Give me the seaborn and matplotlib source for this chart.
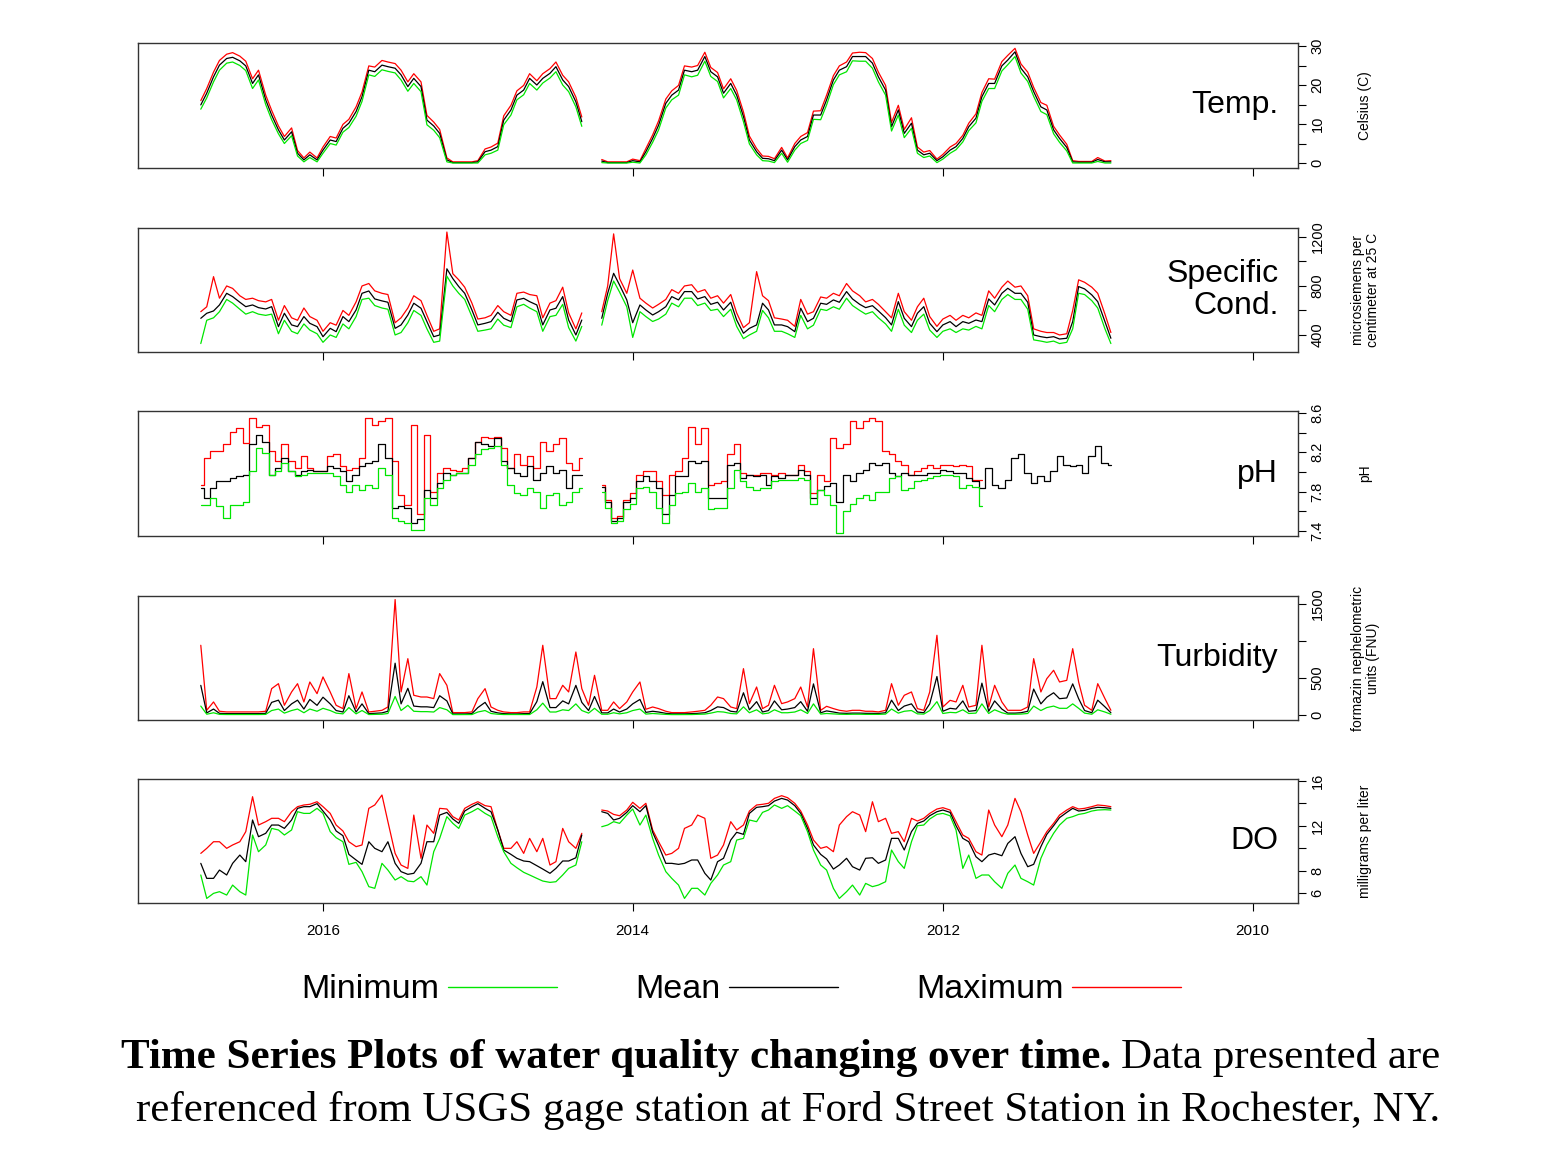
import numpy as np
import pandas as pd
import seaborn as sns
import matplotlib
matplotlib.use("Agg")
import matplotlib.pyplot as plt
from matplotlib.lines import Line2D

nan = np.nan

# semi-monthly samples, Dec 2010 .. Oct 2016
dates = pd.date_range("2010-12-01", periods=142, freq="SMS")

temp_max = [
    0.6, 0.5, 1.4, 0.4, 0.4, 0.4, 0.6, 4.8, 7.2, 9.4,
    14.8, 15.5, 19.4, 23.3, 25.4, 29.4, 27.6, 26.0, 21.5, 21.6,
    18.1, 12.6, 10.2, 7.1, 5.0, 4.1, 2.2, 1.0, 3.2, 2.8,
    4.1, 11.6, 8.6, 14.8, 10.4, 19.9, 23.3, 26.8, 28.3, 28.4,
    28.2, 25.9, 24.9, 22.4, 17.4, 13.4, 13.3, 7.8, 6.8, 5.0,
    1.3, 4.0, 1.1, 1.7, 1.8, 3.7, 6.9, 13.1, 18.6, 21.6,
    19.0, 23.2, 24.5, 28.4, 25.0, 24.6, 24.9, 19.9, 18.5, 16.4,
    10.8, 7.2, 3.7, 0.6, 1.0, 0.3, 0.3, 0.3, 0.3, 0.9,
    nan, nan, 11.8, 16.9, 20.8, 22.5, 25.9, 24.2, 22.9, 21.1,
    22.9, 19.9, 18.5, 14.8, 12.1, 5.1, 4.1, 3.6, 0.6, 0.3,
    0.3, 0.3, 0.3, 1.3, 8.6, 10.5, 12.2, 20.8, 22.9, 20.8,
    23.8, 25.5, 25.9, 26.3, 24.6, 24.9, 18.2, 14.4, 11.2, 9.9,
    6.4, 6.8, 4.1, 1.3, 2.8, 1.3, 3.2, 9.0, 6.8, 9.5,
    13.5, 17.4, 23.8, 21.6, 26.1, 27.4, 28.3, 27.9, 26.3, 23.3,
    19.1, 16.0,
]
temp_mean = [
    0.3, 0.3, 0.9, 0.2, 0.2, 0.2, 0.3, 4.0, 6.3, 8.5,
    13.6, 14.4, 18.3, 22.1, 24.3, 28.5, 26.4, 24.9, 20.4, 20.4,
    17.0, 11.5, 9.3, 6.3, 4.2, 3.3, 1.6, 0.6, 2.5, 2.1,
    3.3, 10.2, 7.6, 13.6, 9.3, 18.7, 22.1, 25.6, 27.3, 27.3,
    27.3, 24.7, 23.8, 21.3, 16.2, 12.3, 12.3, 6.8, 5.9, 4.2,
    0.8, 3.3, 0.6, 1.1, 1.2, 2.9, 5.9, 11.9, 17.4, 20.4,
    17.9, 22.1, 23.4, 27.3, 23.8, 23.4, 23.8, 18.7, 17.4, 15.3,
    9.7, 6.3, 2.9, 0.3, 0.6, 0.1, 0.1, 0.1, 0.1, 0.5,
    nan, nan, 10.6, 15.7, 19.6, 21.3, 24.7, 23.0, 21.7, 20.0,
    21.7, 18.7, 17.4, 13.6, 11.0, 4.2, 3.3, 2.9, 0.3, 0.1,
    0.1, 0.1, 0.1, 0.8, 7.6, 9.5, 11.0, 19.6, 21.7, 19.6,
    22.6, 24.3, 24.7, 25.1, 23.4, 23.8, 17.0, 13.2, 10.2, 8.9,
    5.5, 5.9, 3.3, 0.8, 2.1, 0.8, 2.5, 8.0, 5.9, 8.5,
    12.3, 16.2, 22.6, 20.4, 24.9, 26.2, 27.1, 26.8, 25.1, 22.1,
    17.9, 14.9,
]
temp_min = [
    0.0, 0.0, 0.4, 0.0, 0.0, 0.0, 0.0, 3.1, 5.3, 7.5,
    12.4, 13.2, 17.1, 20.9, 23.1, 27.3, 25.2, 23.6, 19.1, 19.1,
    15.8, 10.3, 8.3, 5.4, 3.4, 2.5, 1.0, 0.1, 1.8, 1.4,
    2.5, 8.9, 6.5, 12.3, 8.2, 17.4, 20.8, 24.3, 26.1, 26.1,
    26.2, 23.4, 22.6, 20.1, 14.9, 11.1, 11.2, 5.8, 5.0, 3.3,
    0.2, 2.5, 0.1, 0.5, 0.6, 2.1, 4.9, 10.6, 16.2, 19.1,
    16.7, 20.9, 22.2, 26.1, 22.5, 22.1, 22.6, 17.4, 16.2, 14.1,
    8.5, 5.3, 2.1, 0.0, 0.2, 0.0, 0.0, 0.0, 0.0, 0.1,
    nan, nan, 9.4, 14.4, 18.3, 20.0, 23.4, 21.8, 20.5, 18.7,
    20.4, 17.5, 16.2, 12.3, 9.8, 3.3, 2.5, 2.1, 0.0, 0.0,
    0.0, 0.0, 0.0, 0.3, 6.5, 8.4, 9.8, 18.3, 20.4, 18.4,
    21.3, 23.1, 23.5, 23.9, 22.2, 22.6, 15.8, 12.0, 9.1, 7.9,
    4.6, 5.0, 2.5, 0.3, 1.4, 0.3, 1.8, 7.0, 5.0, 7.5,
    11.1, 15.0, 21.3, 19.1, 23.7, 25.0, 25.9, 25.6, 23.8, 20.8,
    16.7, 13.8,
]

cond_max = [
    420, 570, 740, 790, 830, 850, 600, 410, 400, 420,
    420, 430, 450, 720, 800, 790, 840, 790, 700, 760,
    560, 580, 540, 560, 520, 560, 530, 470, 550, 700,
    630, 520, 590, 740, 540, 590, 650, 690, 670, 720,
    760, 820, 720, 740, 700, 710, 590, 570, 690, 470,
    520, 530, 540, 680, 720, 917, 500, 460, 580, 730,
    660, 720, 700, 770, 750, 810, 800, 740, 770, 690,
    650, 620, 660, 700, 930, 740, 860, 1225, 800, 590,
    nan, nan, 580, 450, 580, 790, 680, 660, 540, 720,
    730, 750, 740, 560, 590, 640, 560, 540, 530, 660,
    790, 850, 900, 1240, 450, 430, 560, 680, 720, 620,
    540, 500, 730, 740, 760, 820, 800, 670, 560, 600,
    480, 500, 430, 520, 550, 620, 520, 540, 640, 520,
    690, 670, 680, 700, 690, 720, 780, 800, 700, 876,
    630, 590,
]
cond_mean = [
    373, 509, 672, 727, 776, 795, 509, 373, 367, 386,
    378, 386, 400, 667, 740, 740, 781, 740, 645, 694,
    509, 522, 495, 509, 468, 509, 482, 427, 495, 631,
    577, 468, 536, 672, 482, 541, 596, 639, 623, 650,
    694, 754, 667, 686, 650, 659, 536, 509, 618, 427,
    468, 482, 482, 604, 659, 482, 454, 414, 522, 667,
    604, 667, 650, 713, 694, 754, 754, 686, 713, 631,
    590, 563, 604, 645, 500, 686, 808, 903, 740, 536,
    nan, nan, 522, 400, 522, 713, 618, 604, 482, 645,
    672, 699, 686, 509, 536, 585, 509, 495, 482, 604,
    740, 795, 860, 940, 400, 386, 509, 618, 659, 563,
    482, 454, 667, 678, 694, 759, 740, 604, 509, 550,
    427, 454, 386, 468, 495, 550, 468, 482, 577, 468,
    631, 612, 623, 645, 631, 667, 713, 740, 645, 596,
    577, 536,
]
cond_min = [
    330, 450, 620, 680, 730, 740, 450, 340, 330, 350,
    340, 350, 360, 610, 690, 690, 730, 690, 590, 640,
    450, 470, 440, 450, 420, 450, 430, 380, 440, 570,
    520, 420, 480, 610, 430, 490, 540, 590, 570, 600,
    640, 700, 610, 630, 600, 610, 480, 450, 560, 380,
    410, 430, 430, 540, 600, 430, 400, 370, 470, 610,
    550, 610, 600, 660, 640, 700, 700, 630, 660, 570,
    530, 510, 550, 590, 380, 630, 750, 840, 680, 480,
    nan, nan, 470, 350, 460, 650, 560, 550, 430, 590,
    620, 650, 630, 460, 480, 530, 450, 440, 430, 550,
    690, 740, 800, 880, 350, 340, 450, 560, 600, 500,
    420, 400, 610, 620, 640, 700, 690, 550, 450, 490,
    380, 400, 340, 410, 440, 490, 410, 430, 520, 410,
    570, 560, 570, 590, 570, 610, 660, 690, 590, 540,
    520, 330,
]

ph_max = [
    nan, nan, nan, nan, nan, nan, nan, nan, nan, nan,
    nan, nan, nan, nan, nan, nan, nan, nan, nan, nan,
    7.92, 7.92, 8.06, 8.07, 8.06, 8.07, 8.07, 8.04, 8.07, 8.04,
    8.01, 7.97, 8.07, 8.11, 8.18, 8.21, 8.52, 8.55, 8.52, 8.45,
    8.52, 8.28, 8.24, 8.35, 7.91, 7.97, 7.79, 8.01, 8.07, 7.97,
    7.97, 7.99, 7.97, 7.99, 7.99, 7.97, 7.97, 7.99, 8.28, 8.18,
    7.91, 7.89, 7.87, 8.45, 8.28, 8.46, 8.14, 8.01, 7.97, 7.77,
    7.91, 8.01, 8.01, 7.97, 7.79, 7.72, 7.55, 7.53, 7.72, 7.87,
    nan, nan, 8.14, 8.02, 8.09, 8.35, 8.28, 8.21, 8.31, 8.04,
    8.16, 8.07, 8.18, 8.04, 8.24, 8.36, 8.35, 8.36, 8.31, 8.14,
    8.04, 8.01, 8.02, 8.04, 7.99, 7.80, 8.38, 7.57, 8.48, 7.67,
    7.77, 8.11, 8.55, 8.52, 8.48, 8.55, 8.14, 8.04, 8.02, 8.06,
    8.18, 8.16, 8.01, 8.01, 8.04, 8.16, 8.04, 8.11, 8.28, 8.11,
    8.21, 8.48, 8.46, 8.55, 8.29, 8.45, 8.41, 8.28, 8.21, 8.21,
    8.14, 7.87,
]
ph_mean = [
    8.07, 8.09, 8.26, 8.16, 7.99, 8.07, 8.06, 8.07, 8.16, 8.01,
    7.91, 7.96, 7.89, 7.99, 8.18, 8.14, 7.92, 7.84, 7.87, 8.04,
    7.84, 7.91, 7.94, 7.99, 7.99, 8.01, 8.02, 7.99, 7.99, 7.97,
    7.97, 7.97, 7.99, 7.96, 7.99, 8.09, 8.07, 8.09, 8.02, 7.99,
    7.91, 7.97, 7.70, 7.89, 7.86, 7.82, 7.74, 7.97, 8.02, 7.97,
    7.97, 7.94, 7.96, 7.87, 7.97, 7.96, 7.97, 7.94, 8.09, 8.07,
    7.74, 7.74, 7.74, 8.11, 8.09, 8.11, 7.96, 7.96, 7.77, 7.57,
    7.84, 7.91, 7.96, 7.91, 7.74, 7.70, 7.53, 7.50, 7.70, 7.85,
    nan, nan, 7.97, 7.97, 7.84, 8.02, 7.99, 8.06, 7.99, 7.92,
    8.06, 7.96, 7.99, 8.04, 8.11, 8.35, 8.26, 8.28, 8.31, 8.14,
    7.99, 7.99, 7.97, 7.99, 7.89, 7.74, 7.82, 7.52, 7.48, 7.63,
    7.65, 7.63, 8.14, 8.28, 8.11, 8.09, 8.06, 7.97, 7.91, 8.01,
    8.04, 8.06, 8.01, 8.01, 8.02, 8.01, 7.97, 8.01, 8.14, 8.04,
    7.97, 8.31, 8.38, 8.28, 7.97, 7.96, 7.94, 7.91, 7.91, 7.84,
    7.74, 7.84,
]
ph_min = [
    nan, nan, nan, nan, nan, nan, nan, nan, nan, nan,
    nan, nan, nan, nan, nan, nan, nan, nan, nan, nan,
    7.65, 7.85, 7.87, 7.84, 7.96, 7.97, 7.97, 7.96, 7.94, 7.92,
    7.91, 7.84, 7.82, 7.96, 7.94, 7.80, 7.80, 7.72, 7.77, 7.74,
    7.68, 7.60, 7.38, 7.67, 7.77, 7.82, 7.68, 7.92, 7.94, 7.92,
    7.92, 7.92, 7.91, 7.84, 7.84, 7.82, 7.85, 7.91, 8.02, 7.84,
    7.63, 7.63, 7.62, 7.84, 7.80, 7.89, 7.80, 7.79, 7.67, 7.48,
    7.63, 7.80, 7.85, 7.84, 7.68, 7.62, 7.50, 7.48, 7.63, 7.80,
    nan, nan, 7.84, 7.80, 7.70, 7.67, 7.79, 7.77, 7.63, 7.80,
    7.84, 7.77, 7.79, 7.87, 8.07, 8.26, 8.24, 8.23, 8.18, 8.07,
    7.99, 7.99, 7.97, 7.92, 7.84, 7.67, 7.74, 7.41, 7.41, 7.48,
    7.50, 7.53, 7.97, 8.04, 7.84, 7.87, 7.82, 7.87, 7.80, 7.87,
    7.96, 7.99, 7.99, 7.99, 7.99, 7.97, 7.96, 8.01, 8.09, 8.01,
    7.97, 8.19, 8.24, 8.01, 7.70, 7.67, 7.67, 7.53, 7.65, 7.74,
    7.67, 7.67,
]

turb_max = [
    63, 221, 423, 63, 131, 446, 896, 468, 446, 604,
    491, 311, 761, 108, 63, 63, 63, 176, 401, 108,
    942, 131, 108, 401, 176, 198, 108, 1077, 311, 63,
    86, 311, 266, 131, 423, 63, 41, 50, 50, 63,
    63, 50, 63, 86, 117, 63, 896, 108, 378, 221,
    176, 153, 401, 131, 86, 378, 153, 626, 86, 108,
    221, 243, 131, 63, 50, 41, 32, 32, 32, 50,
    86, 108, 77, 446, 311, 176, 86, 176, 63, 63,
    536, 131, 356, 851, 311, 401, 221, 221, 942, 378,
    41, 41, 32, 32, 41, 63, 108, 356, 221, 41,
    32, 32, 32, 401, 559, 221, 243, 243, 266, 761,
    311, 1560, 108, 63, 50, 41, 311, 86, 559, 86,
    131, 311, 514, 288, 446, 176, 423, 311, 131, 423,
    356, 50, 41, 41, 41, 41, 41, 41, 50, 176,
    63, 942,
]
turb_mean = [
    30, 110, 200, 30, 60, 220, 420, 230, 220, 300,
    240, 150, 350, 50, 30, 25, 25, 80, 190, 50,
    430, 60, 50, 190, 80, 90, 50, 520, 150, 30,
    40, 150, 120, 60, 200, 30, 20, 22, 22, 25,
    25, 22, 25, 40, 55, 30, 420, 50, 180, 100,
    80, 70, 190, 60, 40, 180, 70, 300, 40, 50,
    100, 110, 60, 30, 22, 18, 15, 15, 15, 22,
    40, 50, 35, 210, 150, 80, 40, 80, 28, 28,
    250, 60, 170, 400, 150, 190, 100, 100, 450, 180,
    18, 18, 14, 14, 18, 28, 50, 170, 100, 18,
    14, 14, 14, 190, 260, 100, 110, 110, 120, 360,
    150, 700, 50, 28, 22, 18, 150, 40, 260, 40,
    60, 150, 240, 130, 210, 80, 200, 150, 60, 200,
    170, 22, 18, 18, 18, 18, 18, 18, 22, 80,
    28, 400,
]
turb_min = [
    10, 40, 70, 10, 25, 90, 150, 90, 90, 120,
    100, 60, 120, 20, 12, 10, 10, 30, 70, 20,
    150, 25, 20, 70, 30, 35, 20, 180, 60, 12,
    15, 60, 50, 25, 80, 12, 8, 8, 8, 10,
    10, 8, 10, 15, 20, 12, 150, 20, 70, 40,
    30, 30, 70, 25, 15, 70, 30, 110, 15, 20,
    40, 45, 25, 12, 8, 6, 5, 5, 5, 8,
    15, 20, 12, 80, 60, 30, 15, 30, 10, 10,
    90, 25, 60, 150, 60, 70, 40, 40, 160, 70,
    6, 6, 5, 5, 6, 10, 20, 60, 40, 6,
    5, 5, 5, 70, 100, 40, 45, 45, 50, 130,
    60, 250, 20, 10, 8, 6, 60, 15, 100, 15,
    25, 60, 90, 50, 80, 30, 80, 60, 25, 80,
    60, 8, 6, 6, 6, 6, 6, 6, 8, 30,
    10, 120,
]

do_max = [
    13.71, 13.80, 13.86, 13.71, 13.56, 13.50, 13.71, 13.41, 12.96, 12.22,
    11.48, 10.58, 9.54, 11.18, 13.26, 14.45, 12.07, 11.03, 12.07, 13.41,
    9.39, 9.69, 10.88, 11.18, 12.37, 13.41, 13.62, 13.50, 13.11, 12.67,
    12.43, 12.67, 10.58, 11.48, 11.33, 12.67, 12.37, 14.15, 11.48, 12.96,
    13.26, 12.82, 12.07, 9.69, 10.14, 9.99, 10.73, 12.07, 13.32, 14.01,
    14.51, 14.69, 14.45, 14.01, 13.92, 13.86, 13.32, 12.07, 11.63, 12.37,
    10.29, 9.39, 9.10, 12.67, 12.96, 12.07, 11.77, 9.99, 9.54, 9.39,
    10.58, 11.63, 14.01, 13.56, 14.10, 13.41, 12.90, 13.02, 13.32, 13.41,
    nan, nan, 11.33, 9.99, 10.58, 11.77, 8.80, 8.50, 10.88, 9.69,
    10.88, 9.54, 10.58, 9.99, 9.99, 11.63, 13.71, 13.80, 14.15, 13.92,
    13.56, 12.52, 12.82, 13.50, 13.56, 11.33, 12.07, 9.10, 12.96, 8.20,
    8.50, 9.54, 12.37, 14.75, 13.86, 13.56, 10.29, 10.14, 10.58, 11.54,
    12.07, 13.11, 13.71, 14.15, 13.92, 13.86, 13.71, 13.26, 12.37, 12.67,
    12.67, 12.37, 12.07, 14.60, 11.48, 10.58, 10.29, 9.99, 10.58, 10.58,
    9.99, 9.54,
]
do_mean = [
    13.56, 13.62, 13.65, 13.56, 13.38, 13.32, 13.56, 13.20, 12.73, 12.01,
    11.24, 10.14, 8.56, 8.35, 9.54, 11.03, 10.43, 9.33, 9.54, 9.39,
    8.80, 9.24, 10.58, 10.88, 12.01, 13.20, 13.41, 13.26, 12.90, 12.43,
    12.22, 11.48, 9.84, 10.88, 10.88, 8.95, 8.65, 9.15, 9.10, 8.05,
    8.35, 9.10, 8.50, 8.14, 9.04, 9.45, 10.29, 11.77, 13.11, 13.80,
    14.30, 14.45, 14.21, 13.80, 13.71, 13.65, 13.11, 11.24, 11.42, 10.73,
    9.10, 8.80, 7.16, 7.76, 8.95, 8.95, 8.65, 8.56, 8.65, 8.65,
    10.23, 11.42, 13.80, 13.26, 13.80, 13.20, 12.67, 12.52, 13.11, 13.26,
    nan, nan, 11.18, 9.15, 8.86, 8.86, 8.20, 7.76, 8.14, 8.44,
    8.80, 8.86, 9.10, 9.45, 9.84, 11.63, 13.26, 13.56, 13.98, 13.71,
    13.32, 12.22, 12.61, 13.20, 12.96, 10.58, 10.58, 8.65, 7.76, 7.67,
    7.91, 8.65, 10.58, 9.69, 9.99, 10.58, 8.56, 8.95, 9.45, 11.12,
    11.54, 12.52, 13.32, 13.98, 13.71, 13.71, 13.56, 12.52, 11.77, 12.07,
    12.07, 11.33, 11.03, 12.52, 8.80, 9.39, 8.65, 7.61, 8.05, 7.31,
    7.31, 8.65,
]
do_min = [
    13.41, 13.44, 13.41, 13.32, 13.11, 13.02, 12.82, 12.67, 12.07, 11.33,
    10.29, 9.10, 6.71, 7.01, 7.31, 8.50, 7.76, 6.42, 7.01, 7.61,
    7.61, 7.31, 9.39, 8.20, 11.63, 12.90, 13.11, 13.02, 12.61, 12.07,
    12.01, 10.58, 8.20, 8.80, 9.84, 7.01, 6.71, 6.57, 6.86, 5.82,
    6.71, 6.12, 5.52, 6.42, 8.05, 8.50, 9.84, 11.48, 12.90, 13.32,
    13.80, 13.56, 13.86, 13.41, 13.20, 12.37, 12.52, 10.88, 10.73, 8.80,
    8.50, 7.61, 6.86, 5.82, 6.42, 6.42, 5.52, 6.71, 7.31, 7.91,
    9.39, 10.88, 12.96, 12.07, 13.50, 12.96, 12.22, 12.37, 12.07, 11.92,
    nan, nan, 10.58, 8.50, 8.20, 7.61, 7.01, 6.95, 7.07, 7.31,
    7.61, 7.85, 8.26, 8.65, 9.69, 11.03, 12.82, 13.11, 13.56, 13.26,
    12.96, 11.77, 12.22, 12.82, 10.88, 9.69, 6.71, 7.46, 7.01, 7.07,
    7.46, 7.16, 8.05, 8.65, 6.42, 6.57, 7.91, 8.74, 8.56, 10.58,
    10.94, 11.48, 13.11, 13.56, 13.11, 13.11, 13.26, 11.63, 11.18, 11.63,
    11.77, 10.29, 9.69, 11.18, 5.82, 6.12, 6.71, 5.82, 6.12, 5.97,
    5.52, 7.61,
]

# name, y label, series, y range, y ticks, tick labels, step style
panels = [
    ("Temp.", "Celsius (C)", (temp_max, temp_mean, temp_min), (-1.28, 30.77),
     [0, 5, 10, 15, 20, 25, 30], ["0", "", "10", "", "20", "", "30"], False),
    ("Specific\nCond.", "microsiemens per\ncentimeter at 25 C", (cond_max, cond_mean, cond_min),
     (261, 1273), [400, 600, 800, 1000, 1200], ["400", "", "800", "", "1200"], False),
    ("pH", "pH", (ph_max, ph_mean, ph_min), (7.35, 8.62),
     [7.4, 7.6, 7.8, 8.0, 8.2, 8.4, 8.6], ["7.4", "", "7.8", "", "8.2", "", "8.6"], True),
    ("Turbidity", "formazin nephelometric\nunits (FNU)", (turb_max, turb_mean, turb_min),
     (-68, 1608), [0, 500, 1000, 1500], ["0", "500", "", "1500"], False),
    ("DO", "milligrams per liter", (do_max, do_mean, do_min), (5.11, 16.18),
     [6, 8, 10, 12, 14, 16], ["6", "8", "", "12", "", "16"], False),
]
series_names = ["Maximum", "Mean", "Minimum"]
series_colors = ["#ff0000", "#000000", "#00e600"]

sns.set_theme(style="ticks")
plt.rcParams["font.family"] = ["Liberation Sans", "DejaVu Sans"]
plt.rcParams.update({"text.color": "black", "axes.labelcolor": "black",
                     "xtick.color": "black", "ytick.color": "black"})

W, H = 1557, 1168
fig = plt.figure(figsize=(W / 100, H / 100), dpi=100)

# panel frames in pixels (top, bottom) of the reference
frames = [(43, 168), (228, 352), (411, 536), (596, 720), (779, 903)]
left_px, right_px = 138, 1298

year_ticks = [pd.Timestamp(f"{y}-01-01") for y in (2016, 2014, 2012, 2010)]

for k, (name, ylab, series, ylim, yt, ytl, steps) in enumerate(panels):
    top, bot = frames[k]
    ax = fig.add_axes([left_px / W, 1 - bot / H, (right_px - left_px) / W, (bot - top) / H])
    df = pd.DataFrame({"date": dates})
    for col, vals in zip(series_names, series):
        df[col] = vals
    for col, color in zip(series_names, series_colors):
        d = df[["date", col]].copy()
        d["seg"] = d[col].isna().cumsum()
        d = d.dropna()
        kw = {"drawstyle": "steps-mid"} if steps else {}
        sns.lineplot(data=d, x="date", y=col, units="seg", estimator=None,
                     color=color, lw=0.9, ax=ax, **kw)

    # time runs right to left, as in the reference
    ax.set_xlim(pd.Timestamp("2017-03-12"), pd.Timestamp("2009-09-16"))
    ax.set_ylim(*ylim)
    ax.set_xticks(year_ticks)
    ax.set_xticklabels([str(t.year) for t in year_ticks])
    ax.set_xlabel("")
    ax.tick_params(axis="x", direction="out", length=6, width=0.8, labelsize=11, pad=9,
                   labelbottom=(k == len(panels) - 1))

    ax.yaxis.tick_right()
    ax.yaxis.set_label_position("right")
    ax.set_yticks(yt)
    ax.set_yticklabels(ytl, rotation=90, va="center")
    ax.tick_params(axis="y", direction="out", length=6, width=0.8, labelsize=10.5, pad=3)
    ax.set_ylabel(ylab, fontsize=10, linespacing=1.1)
    ax.yaxis.set_label_coords(1.058, 0.5)
    ax.yaxis.label.set_va("center")

    for sp in ax.spines.values():
        sp.set_visible(True)
        sp.set_color("#333333")
        sp.set_linewidth(1.0)

    ax.text(0.983, 0.5, name, transform=ax.transAxes, ha="right", va="center",
            fontsize=23, linespacing=1.05)

handles = [Line2D([], [], color=c, lw=1.0) for c in series_colors]
order = [2, 1, 0]
fig.legend([handles[i] for i in order], [series_names[i] for i in order],
           loc="center", bbox_to_anchor=(0.476, 1 - 990 / H), ncol=3, frameon=False,
           markerfirst=False, fontsize=24.5, handlelength=3.2, handletextpad=0.25,
           columnspacing=2.3)

serif = ["Liberation Serif", "DejaVu Serif"]
y1 = 1 - 1068 / H
y2 = 1 - 1121 / H
reg = fig.text(1440 / W, y1, "Data presented are", ha="right", va="baseline",
               fontsize=31, family=serif)
fig.canvas.draw()
bb = reg.get_window_extent(fig.canvas.get_renderer())
fig.text((bb.x0 - 10) / W, y1, "Time Series Plots of water quality changing over time.",
         ha="right", va="baseline", fontsize=31, family=serif, weight="bold")
fig.text(1440 / W, y2,
         "referenced from USGS gage station at Ford Street Station in Rochester, NY.",
         ha="right", va="baseline", fontsize=31, family=serif)

fig.savefig("out.png", dpi=100)
